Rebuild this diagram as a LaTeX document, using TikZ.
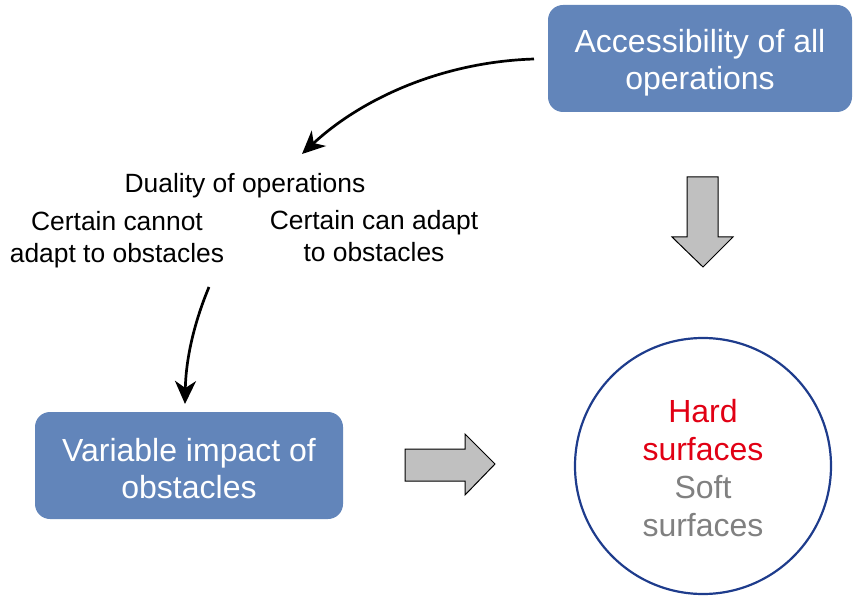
\documentclass[tikz,border=0pt]{standalone}
\usepackage{fontspec}
\setmainfont{Liberation Sans}
\usetikzlibrary{arrows.meta}
\definecolor{boxblue}{RGB}{98,133,186}
\definecolor{circblue}{RGB}{30,60,140}
\definecolor{hardred}{RGB}{225,0,20}
\definecolor{softgray}{RGB}{128,128,128}
\definecolor{blockgray}{RGB}{192,192,192}
\tikzset{
  bluebox/.style={fill=boxblue, rounded corners=15pt, text=white, align=center,
    font=\fontsize{32}{37}\selectfont, minimum width=#1, minimum height=107pt, inner sep=0pt},
  smalltext/.style={align=center, font=\fontsize{26.4}{32}\selectfont, inner sep=0pt},
  curvearrow/.style={line width=2.7pt, -{Stealth[length=23pt,width=21pt,inset=7pt]}},
  blockarrow/.style={fill=blockgray, draw=black, line width=1pt, line join=miter}
}
\begin{document}
\begin{tikzpicture}[x=1pt,y=-1pt]
\useasboundingbox (0,0) rectangle (854,596);
% top box
\fill[boxblue, rounded corners=15pt] (548,5) rectangle (852,112);
\node[bluebox=304pt, fill=none] (access) at (700,63) {Accessibility of all\\operations};
% left box
\fill[boxblue, rounded corners=15pt] (35,412) rectangle (343,519);
\node[bluebox=308pt, fill=none] (impact) at (189,469) {Variable impact of\\obstacles};
% circle
\node[circle, draw=circblue, line width=2.2pt, minimum size=256pt, inner sep=0pt] (circ) at (703,466) {};
\node[align=center, font=\fontsize{32}{38}\selectfont, inner sep=0pt] (surf) at (703,468)
  {\textcolor{hardred}{Hard}\\\textcolor{hardred}{surfaces}\\\textcolor{softgray}{Soft}\\\textcolor{softgray}{surfaces}};
% texts
\node[smalltext] (duality) at (245,185.5) {Duality of operations};
\node[smalltext] (cannot) at (117,239.5) {Certain cannot\\adapt to obstacles};
\node[smalltext] (can) at (374,236) {Certain can adapt\\to obstacles};
% curved arrows
\coordinate (s1) at (534,59);
\coordinate (e1) at (302,154);
\draw[curvearrow] (s1) .. controls (440,62) and (360,100) .. (e1);
\coordinate (s2) at (209,287);
\coordinate (e2) at (185,404);
\draw[curvearrow] (s2) .. controls (196,318) and (186,355) .. (e2);
% block arrows
\draw[blockarrow] (687,177) -- (718,177) -- (718,237) -- (733,237) -- (703,267) -- (672,237) -- (687,237) -- cycle;
\draw[blockarrow] (405,449) -- (465,449) -- (465,434) -- (495,464) -- (465,495) -- (465,481) -- (405,481) -- cycle;
\end{tikzpicture}
\end{document}
